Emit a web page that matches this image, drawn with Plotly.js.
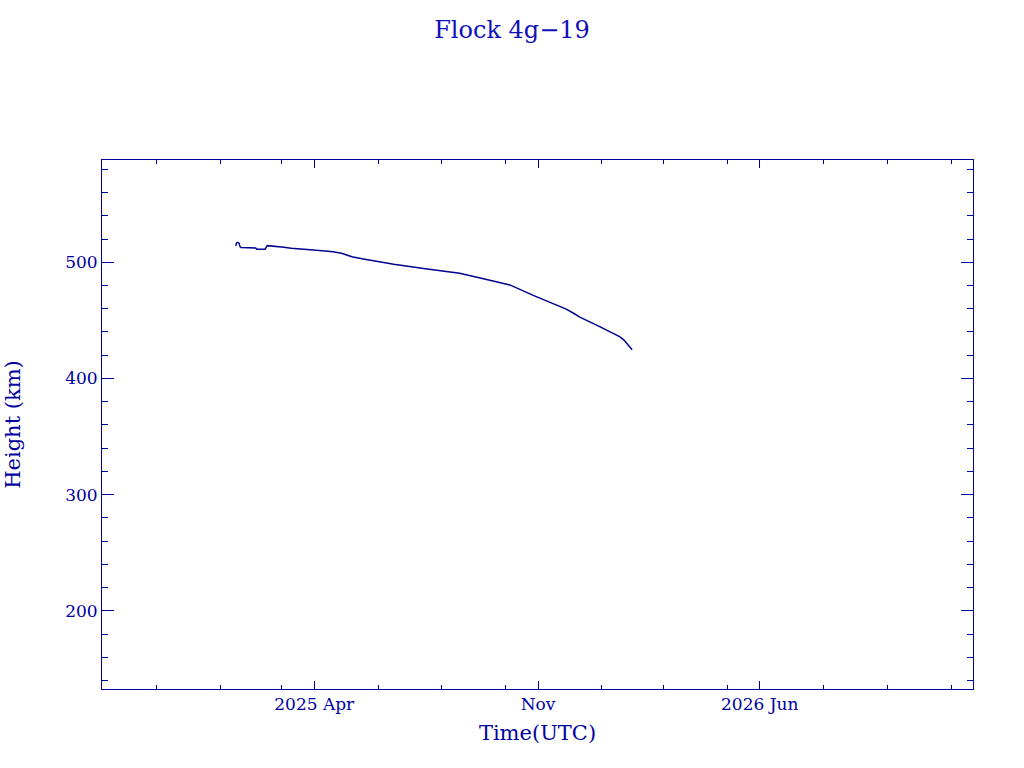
<!DOCTYPE html>
<html>
<head>
<meta charset="utf-8">
<script src="https://cdn.plot.ly/plotly-3.0.1.min.js"></script>
<style>html,body{margin:0;padding:0;background:#fff;}#chart{width:1024px;height:768px;}</style>
</head>
<body>
<div id="chart"></div>
<script>
const dates = ['2025-01-16','2025-01-16 12:00','2025-01-17 12:00','2025-01-19','2025-01-20','2025-01-21','2025-02-04','2025-02-05','2025-02-13','2025-02-15','2025-03-01','2025-03-10','2025-03-31','2025-04-19','2025-04-27','2025-05-07','2025-05-18','2025-06-16','2025-07-18','2025-08-18','2025-09-19','2025-10-05','2025-10-28','2025-11-28','2025-12-05','2025-12-11','2025-12-30','2026-01-18','2026-01-22','2026-01-30'];
const heights = [514.0,516.4,517.2,516.6,513.4,512.6,512.3,511.2,511.2,514.3,513.2,512.0,510.6,509.1,507.7,504.8,502.8,498.3,494.2,490.5,483.9,480.5,471.3,459.6,456.1,452.7,444.6,436.0,433.2,424.6];
const xTickVals = ['2025-04-01','2025-11-01','2026-06-01'];
const xTickText = ['2025 Apr','Nov','2026 Jun'];
const xMinorVals = ['2024-11-01','2025-01-01','2025-03-01','2025-06-01','2025-08-01','2025-10-01','2026-01-01','2026-03-01','2026-05-01','2026-08-01','2026-10-01','2026-12-01'];
const yTickVals = [200,300,400,500];

const col = '#0000a0';
const fontFam = 'DejaVu Serif, serif';

Plotly.newPlot('chart', [{
  x: dates, y: heights, type: 'scatter', mode: 'lines',
  line: {color: '#000090', width: 1.5}, hoverinfo: 'skip'
}], {
  width: 1024, height: 768,
  margin: {l: 102, r: 51, t: 160, b: 79},
  paper_bgcolor: '#fff', plot_bgcolor: '#fff',
  showlegend: false,
  font: {family: fontFam, color: col, size: 17},
  title: {text: 'Flock 4g\u221219', x: 0.5, xref: 'container', xanchor: 'center',
          y: 1 - 30/768, yref: 'container', yanchor: 'middle',
          font: {family: fontFam, size: 24, color: '#1010b8'}},
  xaxis: {
    type: 'date', range: ['2024-09-10', '2026-12-22'],
    tickmode: 'array', tickvals: xTickVals, ticktext: xTickText,
    ticks: 'inside', ticklen: 8, tickwidth: 1, tickcolor: col,
    showline: true, linecolor: col, linewidth: 1, mirror: 'allticks',
    showgrid: false, zeroline: false,
    tickfont: {family: fontFam, size: 17, color: col},
    minor: {tickmode: 'array', tickvals: xMinorVals, ticks: 'inside', ticklen: 4, tickwidth: 1, tickcolor: col, showgrid: false},
    title: {text: 'Time(UTC)', font: {family: fontFam, size: 21, color: col}, standoff: 11}
  },
  yaxis: {
    range: [132.7, 588],
    tickmode: 'array', tickvals: yTickVals,
    ticks: 'inside', ticklen: 12, tickwidth: 1, tickcolor: col,
    showline: true, linecolor: col, linewidth: 1, mirror: 'allticks',
    showgrid: false, zeroline: false,
    tickfont: {family: fontFam, size: 17, color: col},
    minor: {dtick: 20, tick0: 0, ticks: 'inside', ticklen: 6, tickwidth: 1, tickcolor: col, showgrid: false},
    title: {text: 'Height (km)', font: {family: fontFam, size: 21, color: col}, standoff: 38}
  }
}, {staticPlot: true, displayModeBar: false});
</script>
</body>
</html>
